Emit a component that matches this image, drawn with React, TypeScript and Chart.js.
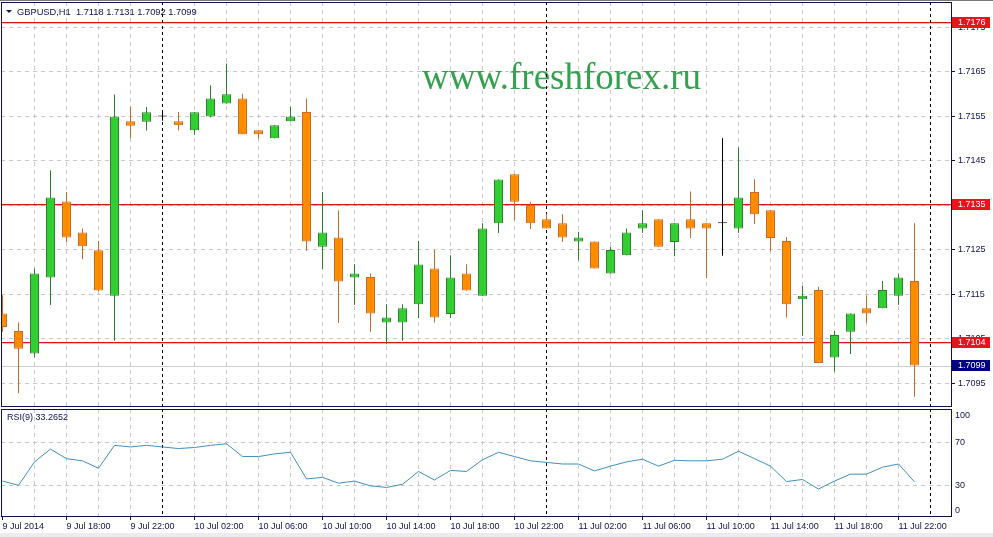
import React, { useEffect, useRef } from 'react';
import { Chart, registerables } from 'chart.js';

Chart.register(...registerables);

// ---- data (GBPUSD H1, 9 Jul 14:00 .. 11 Jul 23:00) ----
const openPrices = [
  1.71107, 1.71068, 1.71017, 1.71188, 1.71359, 1.71289, 1.71249, 1.71147, 1.71539, 1.71538,
  1.7155, 1.71539, 1.71519, 1.7155, 1.71579, 1.7159, 1.71519, 1.71501, 1.71539, 1.7156,
  1.71257, 1.71278, 1.71188, 1.71189, 1.71087, 1.71087, 1.71128, 1.71208, 1.71106, 1.71197,
  1.71147, 1.7131, 1.7142, 1.71351, 1.71319, 1.7131, 1.71269, 1.71269, 1.71197, 1.71238,
  1.71298, 1.71319, 1.71268, 1.71319, 1.7131, 1.7131, 1.71298, 1.7138, 1.71339, 1.7127,
  1.71139, 1.7116, 1.71008, 1.71066, 1.71119, 1.71119, 1.71147, 1.7118,
];
const highPrices = [
  1.71148, 1.71087, 1.71208, 1.71429, 1.7138, 1.71298, 1.7127, 1.71599, 1.71572, 1.71571,
  1.71559, 1.7156, 1.7156, 1.7162, 1.71669, 1.71601, 1.71519, 1.7153, 1.71572, 1.7159,
  1.7138, 1.71339, 1.71218, 1.71197, 1.71128, 1.71128, 1.7127, 1.7125, 1.71238, 1.71218,
  1.7131, 1.71408, 1.7142, 1.71358, 1.71332, 1.7133, 1.71291, 1.71269, 1.71257, 1.71298,
  1.71339, 1.71319, 1.7131, 1.71381, 1.7131, 1.71501, 1.7148, 1.71409, 1.71339, 1.71279,
  1.71169, 1.71167, 1.71068, 1.71107, 1.71148, 1.7118, 1.71197, 1.7131,
];
const lowPrices = [
  1.71066, 1.70928, 1.71008, 1.71126, 1.71268, 1.71229, 1.71157, 1.71046, 1.71501, 1.71518,
  1.7154, 1.71518, 1.71509, 1.71548, 1.71579, 1.7151, 1.715, 1.71501, 1.71539, 1.71248,
  1.71207, 1.71086, 1.71126, 1.71066, 1.71038, 1.71046, 1.71097, 1.71087, 1.71097, 1.71159,
  1.71147, 1.71288, 1.71317, 1.71297, 1.71298, 1.71268, 1.71227, 1.71208, 1.71197, 1.71238,
  1.71288, 1.71257, 1.71236, 1.71277, 1.71187, 1.71237, 1.71288, 1.71308, 1.71247, 1.71098,
  1.71057, 1.70996, 1.70976, 1.71016, 1.71086, 1.71119, 1.71126, 1.7092,
];
const closePrices = [
  1.71077, 1.71028, 1.71197, 1.71368, 1.71278, 1.71258, 1.71159, 1.7155, 1.71529, 1.71559,
  1.7155, 1.7153, 1.71559, 1.7159, 1.716, 1.7151, 1.7151, 1.7153, 1.7155, 1.71269,
  1.71289, 1.71179, 1.71197, 1.71107, 1.71098, 1.71119, 1.71217, 1.71098, 1.71188, 1.71159,
  1.71298, 1.71408, 1.71358, 1.7131, 1.71298, 1.71278, 1.71278, 1.71208, 1.7125, 1.71289,
  1.7131, 1.71257, 1.7131, 1.71298, 1.71298, 1.7131, 1.71368, 1.7133, 1.71277, 1.71128,
  1.71147, 1.70996, 1.71059, 1.71107, 1.71107, 1.7116, 1.71188, 1.7099,
];
const rsiValues = [
  34, 30, 52, 64, 55, 53, 46, 67.5, 66, 67.5,
  66, 64.5, 65.5, 67.5, 69, 57, 57, 59.5, 61, 36,
  37.5, 32, 34, 29.5, 28, 31, 43, 35, 44, 43,
  54, 61, 57, 53, 51.5, 50, 50, 43.5, 48, 52,
  54.5, 48, 53.5, 53, 53, 54.5, 62, 55, 48, 33.5,
  35.5, 26.5, 34, 40.5, 40.5, 47, 50, 33.2652,
];

const timeTickIndex = [0, 4, 8, 12, 16, 20, 24, 28, 32, 36, 40, 44, 48, 52, 56];
const timeTickLabels = [
  '9 Jul 2014', '9 Jul 18:00', '9 Jul 22:00', '10 Jul 02:00', '10 Jul 06:00',
  '10 Jul 10:00', '10 Jul 14:00', '10 Jul 18:00', '10 Jul 22:00', '11 Jul 02:00',
  '11 Jul 06:00', '11 Jul 10:00', '11 Jul 14:00', '11 Jul 18:00', '11 Jul 22:00',
];
const gridTickIndex = [0, 2, 4, 6, 8, 10, 12, 14, 16, 18, 20, 22, 24, 26, 28, 30, 32, 34, 36, 38, 40, 42, 44, 46, 48, 50, 52, 54, 56, 58];
const priceTicks = [1.7095, 1.7105, 1.7115, 1.7125, 1.7135, 1.7145, 1.7155, 1.7165, 1.7175];
const levelPrices = [1.7176, 1.7135, 1.7104];
const bidPrice = 1.7099;
const daySeparatorIndex = [10, 34, 58];
const rsiAxisTicks = [100, 70, 30, 0];
const rsiGridLevels = [70, 30];

const headerText = 'GBPUSD,H1  1.7118 1.7131 1.7092 1.7099';
const rsiTitle = 'RSI(9) 33.2652';
const watermarkText = 'www.freshforex.ru';

// ---- layout / style ----
const W = 993;
const H = 537;
const PLOT_LEFT = 1;
const AXIS_W = 41;
const BAR_PX = 16;
const X_MIN = -1.5 / BAR_PX;
const X_MAX = X_MIN + (W - AXIS_W - PLOT_LEFT) / BAR_PX;
const MAIN_TOP = 2;
const MAIN_BOTTOM = 407;
const RSI_TOP = 409;
const RSI_AXIS_H = 20;
const PRICE_MIN = 1.70897;
const PRICE_MAX = 1.71807;
const RSI_MIN = 0.3;
const RSI_MAX = 101.6;

const NAVY = '#10104e';
const GRID = '#c8c8c8';
const UP_FILL = '#32cd32';
const UP_EDGE = '#2a852a';
const DN_FILL = '#ff8c00';
const DN_EDGE = '#d2691e';
const DOJI = '#000000';
const LEVEL = '#e01010';
const LEVEL_HALO = 'rgba(235, 60, 60, 0.35)';
const LEVEL_BOX = '#e8141c';
const BID_LINE = '#cccccc';
const BID_BOX = '#000080';
const RSI_LINE = '#3f8fbf';
const WATERMARK = '#35a04f';
const FONT = '"Liberation Sans", Arial, sans-serif';

const candleDir = (i: number) => Math.sign(closePrices[i] - openPrices[i]);
const fillFor = (i: number) => (candleDir(i) > 0 ? UP_FILL : candleDir(i) < 0 ? DN_FILL : DOJI);
const edgeFor = (i: number) => (candleDir(i) > 0 ? UP_EDGE : candleDir(i) < 0 ? DN_EDGE : DOJI);

const xGridColor = (ctx: any) => {
  const v = ctx.tick ? ctx.tick.value : -1;
  if (v === 0 || daySeparatorIndex.includes(v)) return 'rgba(0,0,0,0)';
  return GRID;
};

const noPad = (s: any) => {
  s.paddingTop = 0;
  s.paddingBottom = 0;
  s.paddingLeft = 0;
  s.paddingRight = 0;
};

const drawSeparators = (chart: any) => {
  const { ctx, chartArea: a, scales } = chart;
  ctx.save();
  ctx.strokeStyle = '#000';
  ctx.lineWidth = 1;
  ctx.setLineDash([3, 3]);
  for (const d of daySeparatorIndex) {
    const px = Math.floor(scales.x.getPixelForValue(d)) + 0.5;
    ctx.beginPath();
    ctx.moveTo(px, a.top);
    ctx.lineTo(px, a.bottom);
    ctx.stroke();
  }
  ctx.restore();
};

const drawFrame = (chart: any) => {
  const { ctx, chartArea: a } = chart;
  ctx.save();
  ctx.strokeStyle = NAVY;
  ctx.lineWidth = 1;
  ctx.setLineDash([]);
  ctx.strokeRect(a.left + 0.5, a.top + 0.5, a.right - a.left - 1, a.bottom - a.top - 1);
  ctx.restore();
};

const mainDecor = {
  id: 'mainDecor',
  beforeDatasetsDraw(chart: any) {
    const { ctx, chartArea: a, scales } = chart;
    const y = scales.y;
    ctx.save();
    ctx.beginPath();
    ctx.rect(a.left, a.top, a.right - a.left, a.bottom - a.top);
    ctx.clip();
    ctx.font = '37px "Liberation Serif", "Times New Roman", serif';
    ctx.fillStyle = WATERMARK;
    ctx.textAlign = 'left';
    ctx.textBaseline = 'alphabetic';
    ctx.fillText(watermarkText, a.left + 421, a.top + 87);
    ctx.lineWidth = 1;
    ctx.setLineDash([]);
    ctx.strokeStyle = BID_LINE;
    const by = Math.round(y.getPixelForValue(bidPrice)) + 0.5;
    ctx.beginPath();
    ctx.moveTo(a.left, by);
    ctx.lineTo(a.right, by);
    ctx.stroke();
    for (const lv of levelPrices) {
      const ly = Math.round(y.getPixelForValue(lv)) - 0.5;
      ctx.strokeStyle = LEVEL_HALO;
      ctx.beginPath();
      ctx.moveTo(a.left, ly + 1);
      ctx.lineTo(a.right, ly + 1);
      ctx.stroke();
      ctx.strokeStyle = LEVEL;
      ctx.beginPath();
      ctx.moveTo(a.left, ly);
      ctx.lineTo(a.right, ly);
      ctx.stroke();
    }
    ctx.restore();
    drawSeparators(chart);
  },
  afterDraw(chart: any) {
    const { ctx, chartArea: a, scales } = chart;
    const y = scales.y;
    drawFrame(chart);
    ctx.save();
    ctx.fillStyle = NAVY;
    ctx.beginPath();
    ctx.moveTo(a.left + 5, a.top + 8);
    ctx.lineTo(a.left + 11, a.top + 8);
    ctx.lineTo(a.left + 8, a.top + 11);
    ctx.closePath();
    ctx.fill();
    ctx.font = `9.3px ${FONT}`;
    ctx.textAlign = 'left';
    ctx.textBaseline = 'middle';
    ctx.fillText(headerText, a.left + 16, a.top + 10);
    ctx.font = `9px ${FONT}`;
    const box = (v: number, bg: string) => {
      const py = Math.round(y.getPixelForValue(v));
      ctx.fillStyle = bg;
      ctx.fillRect(a.right, py - 6, 38, 11);
      ctx.fillStyle = '#ffffff';
      ctx.fillText(v.toFixed(4), a.right + 6, py - 0.5);
    };
    for (const lv of levelPrices) box(lv, LEVEL_BOX);
    box(bidPrice, BID_BOX);
    ctx.restore();
  },
};

const rsiDecor = {
  id: 'rsiDecor',
  beforeDatasetsDraw(chart: any) {
    drawSeparators(chart);
  },
  afterDraw(chart: any) {
    const { ctx, chartArea: a, scales } = chart;
    drawFrame(chart);
    ctx.save();
    ctx.font = `9px ${FONT}`;
    ctx.fillStyle = NAVY;
    ctx.textAlign = 'left';
    ctx.textBaseline = 'middle';
    ctx.fillText(rsiTitle, a.left + 6, a.top + 9);
    for (const v of rsiAxisTicks) {
      const raw = scales.y.getPixelForValue(v);
      const py = Math.min(Math.max(raw, a.top + 7), a.bottom - 6);
      ctx.fillText(String(v), a.right + 3, py);
    }
    ctx.restore();
  },
};

const candleIndex = openPrices.map((_, i) => i);

function mainConfig(): any {
  return {
    type: 'bar',
    data: {
      datasets: [
        {
          label: 'wicks',
          data: candleIndex.map((i) => ({ x: i, y: [lowPrices[i], highPrices[i]] })),
          backgroundColor: (c: any) => edgeFor(c.dataIndex),
          borderWidth: 0,
          barThickness: 1,
          grouped: false,
          inflateAmount: 0,
          order: 2,
        },
        {
          label: 'bodies',
          data: candleIndex.map((i) => ({ x: i, y: [openPrices[i], closePrices[i]] })),
          backgroundColor: (c: any) => fillFor(c.dataIndex),
          borderColor: (c: any) => edgeFor(c.dataIndex),
          borderWidth: 1,
          borderSkipped: false,
          barThickness: 9,
          minBarLength: 1,
          grouped: false,
          inflateAmount: 0,
          order: 1,
        },
      ],
    },
    options: {
      responsive: false,
      animation: false,
      devicePixelRatio: 1,
      events: [],
      layout: { padding: { left: PLOT_LEFT, top: MAIN_TOP, right: 0, bottom: H - MAIN_BOTTOM } },
      plugins: { legend: { display: false }, tooltip: { enabled: false } },
      scales: {
        x: {
          type: 'linear',
          min: X_MIN,
          max: X_MAX,
          offset: false,
          afterBuildTicks: (s: any) => {
            s.ticks = gridTickIndex.map((v) => ({ value: v }));
          },
          afterFit: (s: any) => {
            s.height = 0;
            noPad(s);
          },
          ticks: { display: false },
          grid: { color: xGridColor, lineWidth: 1, drawTicks: false, offset: false },
          border: { display: false, dash: [4, 4] },
        },
        y: {
          type: 'linear',
          position: 'right',
          min: PRICE_MIN,
          max: PRICE_MAX,
          afterBuildTicks: (s: any) => {
            s.ticks = priceTicks.map((v) => ({ value: v }));
          },
          afterFit: (s: any) => {
            s.width = AXIS_W;
            noPad(s);
          },
          ticks: {
            color: NAVY,
            font: { family: FONT, size: 9 },
            padding: 3,
            callback: (v: any) => Number(v).toFixed(4),
          },
          grid: { color: GRID, lineWidth: 1, drawTicks: true, tickLength: 3, tickColor: NAVY, tickBorderDash: [] },
          border: { display: false, dash: [4, 4] },
        },
      },
    },
    plugins: [mainDecor],
  };
}

function rsiConfig(): any {
  return {
    type: 'line',
    data: {
      datasets: [
        {
          label: 'RSI(9)',
          data: rsiValues.map((v, i) => ({ x: i, y: v })),
          borderColor: RSI_LINE,
          borderWidth: 1,
          pointRadius: 0,
          tension: 0,
          fill: false,
        },
      ],
    },
    options: {
      responsive: false,
      animation: false,
      devicePixelRatio: 1,
      events: [],
      layout: { padding: { left: PLOT_LEFT, top: RSI_TOP, right: 0, bottom: 0 } },
      plugins: { legend: { display: false }, tooltip: { enabled: false } },
      scales: {
        x: {
          type: 'linear',
          min: X_MIN,
          max: X_MAX,
          offset: false,
          afterBuildTicks: (s: any) => {
            s.ticks = gridTickIndex.map((v) => ({ value: v }));
          },
          afterFit: (s: any) => {
            s.height = RSI_AXIS_H;
            noPad(s);
          },
          ticks: {
            autoSkip: false,
            maxRotation: 0,
            minRotation: 0,
            align: 'start',
            padding: 1,
            color: NAVY,
            font: { family: FONT, size: 9 },
            callback: (v: any) => {
              const k = timeTickIndex.indexOf(Number(v));
              return k >= 0 ? timeTickLabels[k] : '';
            },
          },
          grid: {
            color: xGridColor,
            lineWidth: 1,
            drawTicks: true,
            tickLength: 3,
            offset: false,
            tickBorderDash: [],
            tickColor: (c: any) => (c.tick && timeTickIndex.includes(c.tick.value) ? NAVY : 'rgba(0,0,0,0)'),
          },
          border: { display: false, dash: [4, 4] },
        },
        y: {
          type: 'linear',
          position: 'right',
          min: RSI_MIN,
          max: RSI_MAX,
          afterBuildTicks: (s: any) => {
            s.ticks = rsiGridLevels.map((v) => ({ value: v }));
          },
          afterFit: (s: any) => {
            s.width = AXIS_W;
            noPad(s);
          },
          ticks: { display: false },
          grid: { color: GRID, lineWidth: 1, drawTicks: false },
          border: { display: false, dash: [4, 4] },
        },
      },
    },
    plugins: [rsiDecor],
  };
}

export default function App() {
  const mainRef = useRef<HTMLCanvasElement>(null);
  const rsiRef = useRef<HTMLCanvasElement>(null);

  useEffect(() => {
    const c1 = new Chart(mainRef.current as HTMLCanvasElement, mainConfig());
    const c2 = new Chart(rsiRef.current as HTMLCanvasElement, rsiConfig());
    return () => {
      c1.destroy();
      c2.destroy();
    };
  }, []);

  return (
    <div style={{ position: 'fixed', left: 0, top: 0, width: W, height: H, background: '#ffffff', overflow: 'hidden' }}>
      <div style={{ position: 'absolute', left: 0, top: 0, width: W, height: 1, background: '#7a7a7a' }} />
      <div style={{ position: 'absolute', left: 0, top: 533, width: W, height: 4, background: '#ececec' }} />
      <canvas ref={mainRef} width={W} height={H} style={{ position: 'absolute', left: 0, top: 0 }} />
      <canvas ref={rsiRef} width={W} height={H} style={{ position: 'absolute', left: 0, top: 0 }} />
    </div>
  );
}
